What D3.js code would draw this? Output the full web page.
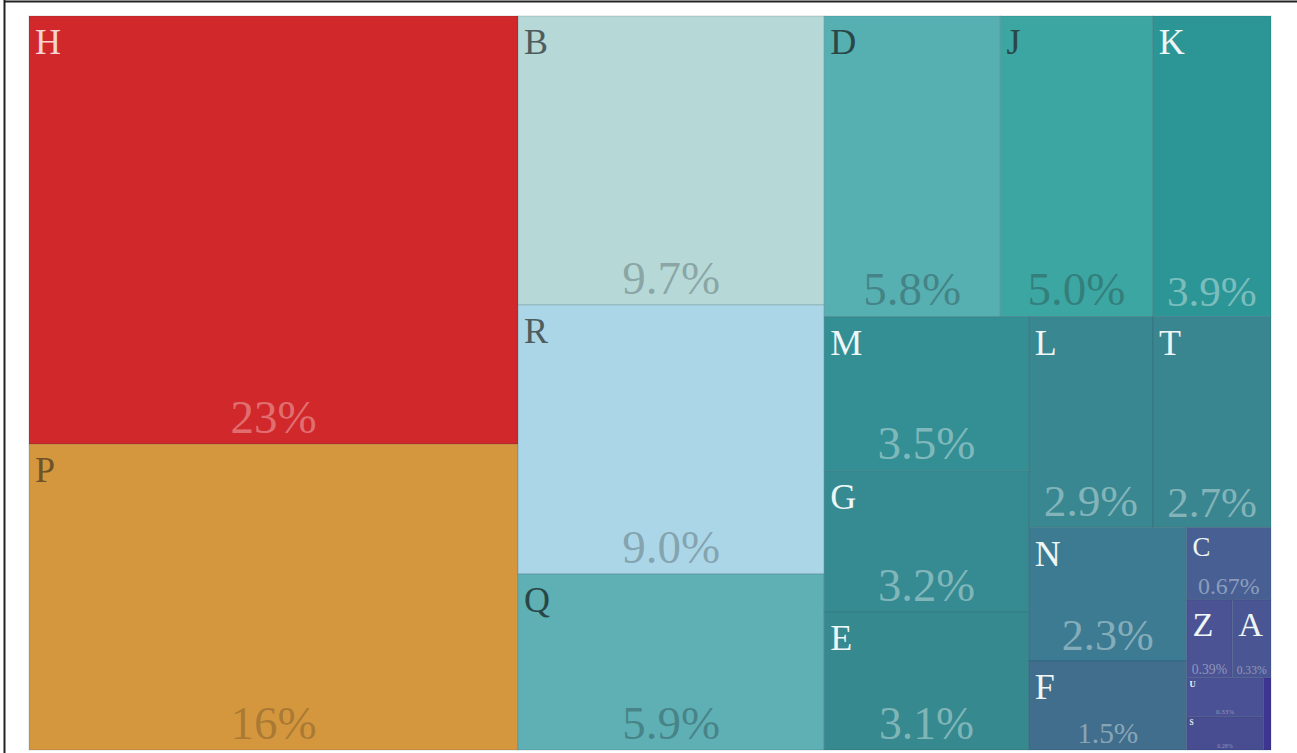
<!DOCTYPE html>
<html>
<head>
<meta charset="utf-8">
<script src="https://cdn.jsdelivr.net/npm/d3@7/dist/d3.min.js"></script>
<style>
  html, body { margin: 0; padding: 0; background: #fff; }
  svg { display: block; }
</style>
</head>
<body>
<svg id="chart" width="1297" height="753"></svg>
<script>
// share of each item (percent of total)
var names = ["H", "P", "B", "R", "Q", "D", "J", "K", "M", "G", "E", "L", "T", "N", "F", "C", "Z", "A", "U", "S", "W"]
var shares = [22.96, 16.41, 9.70, 9.03, 5.91, 5.81, 5.02, 3.90, 3.46, 3.17, 3.10, 2.87, 2.73, 2.31, 1.54, 0.67, 0.39, 0.33, 0.33, 0.28, 0.06]
var palette = ["#d1292b", "#d4973e", "#b6d9d7", "#abd6e8", "#5eb0b5", "#56b0b2", "#3ba6a2", "#2c9696",
  "#338f94", "#358b91", "#35898f", "#398790", "#3a8690", "#3c7b91", "#416e8d", "#485f93",
  "#4c5394", "#4a5693", "#4a5194", "#484d91", "#3e3592"]

var FONT = "'Liberation Serif', 'Times New Roman', Times, 'DejaVu Serif', serif"

var svg = d3.select("#chart")
var width = 1297, height = 753
var margin = {left: 29, top: 16, right: 26, bottom: 3}
var innerW = width - margin.left - margin.right
var innerH = height - margin.top - margin.bottom

var color = d3.scaleOrdinal(names, palette)
var fmt = d3.format(".2r")

var root = d3.hierarchy({children: names.map(function(n, i) { return {name: n, value: shares[i]} })})
  .sum(function(d) { return d.value || 0 })

d3.treemap().size([innerW, innerH]).paddingInner(0)(root)

var total = root.value

// frame of the original figure
svg.append("line").attr("x1", 4).attr("x2", width).attr("y1", 1.5).attr("y2", 1.5)
  .attr("stroke", "#222").attr("stroke-width", 2)
svg.append("line").attr("x1", 4.5).attr("x2", 4.5).attr("y1", 0).attr("y2", height)
  .attr("stroke", "#222").attr("stroke-width", 2)

var g = svg.append("g").attr("transform", "translate(" + margin.left + "," + margin.top + ")")

var cell = g.selectAll(".cell").data(root.leaves())
  .enter().append("g")
  .attr("class", "cell")
  .attr("transform", function(d) { return "translate(" + d.x0 + "," + d.y0 + ")" })

cell.append("rect")
  .attr("width", function(d) { return d.x1 - d.x0 })
  .attr("height", function(d) { return d.y1 - d.y0 })
  .attr("fill", function(d) { return color(d.data.name) })
  .attr("stroke", "rgba(0,45,60,0.16)")
  .attr("stroke-width", 1)

function textColor(d) {
  var c = d3.color(color(d.data.name))
  var c2 = d3.hsl(c)
  var lum = (0.299 * c.r + 0.587 * c.g + 0.114 * c.b) / 255
  if (d.data.name == "H") return "#f7d3d3"
  if (d.data.name == "P") return "#6e5228"
  if (lum > 0.7) return "#4e5c5e"
  if (lum > 0.5) return d3.hsl(c2.h, 0.25, 0.22).toString()
  return "#eef6f6"
}

function labelSize(d) {
  var h = d.y1 - d.y0
  if (h < 60) return h * 0.22
  if (h < 75) return h * 0.37
  return Math.min(36, h * 0.44)
}

function pctSize(d) {
  var w = d.x1 - d.x0, h = d.y1 - d.y0
  var txt = fmt(d.value / total * 100) + "%"
  var em = txt.length * 0.5 + 0.33
  if (h < 60) return Math.min(h * 0.18, w * 0.85 / em)
  return Math.min(47, h * 0.33, w * 0.85 / em)
}

var shown = cell.filter(function(d) { return d.x1 - d.x0 > 12 })

shown.append("text")
  .attr("class", "label")
  .attr("x", function(d) { return labelSize(d) < 20 ? 3 : 6 })
  .attr("y", function(d) { return labelSize(d) * 1.03 + 1 })
  .attr("font-family", FONT)
  .attr("font-size", function(d) { return labelSize(d) })
  .attr("font-weight", function(d) { return labelSize(d) < 14 ? "bold" : "normal" })
  .attr("fill", textColor)
  .text(function(d) { return d.data.name })

shown.append("text")
  .attr("class", "pct")
  .attr("x", function(d) { return (d.x1 - d.x0) / 2 })
  .attr("y", function(d) { return (d.y1 - d.y0) - pctSize(d) * 0.22 - 1 })
  .attr("text-anchor", "middle")
  .attr("font-family", FONT)
  .attr("font-size", pctSize)
  .attr("fill", textColor)
  .attr("fill-opacity", 0.42)
  .text(function(d) { return fmt(d.value / total * 100) + "%" })
</script>
</body>
</html>
